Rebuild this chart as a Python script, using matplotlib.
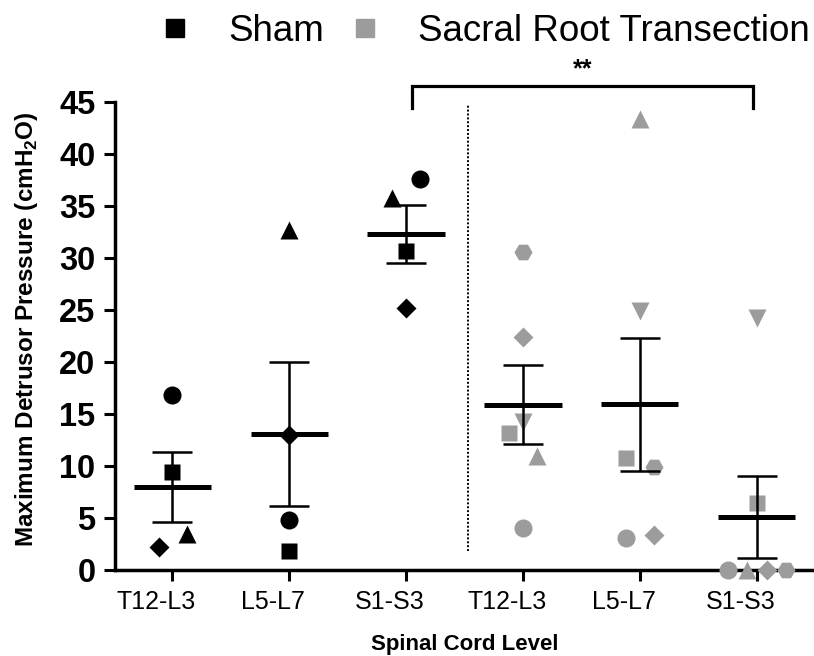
import matplotlib
matplotlib.use('Agg')

import numpy as np
import matplotlib.pyplot as plt
from matplotlib.lines import Line2D
from matplotlib.transforms import ScaledTranslation

plt.rcParams['font.family'] = ['Liberation Sans', 'DejaVu Sans']
plt.rcParams['mathtext.fontset'] = 'custom'
plt.rcParams['mathtext.rm'] = 'Liberation Sans'
plt.rcParams['mathtext.bf'] = 'Liberation Sans:bold'

levels = ['T12-L3', 'L5-L7', 'S1-S3']
groups = ['Sham', 'Sacral Root Transection']

# sham animals: circle, square, triangle, diamond
sham_t12_l3 = [16.8, 9.4, 3.5, 2.2]
sham_l5_l7 = [4.8, 1.8, 32.7, 13.0]
sham_s1_s3 = [37.6, 30.7, 35.8, 25.2]

# transection animals: circle, square, triangle, diamond, hexagon, triangle-down
srt_t12_l3 = [4.0, 13.2, 11.0, 22.4, 30.6, 14.2]
srt_l5_l7 = [3.1, 10.8, 43.4, 3.4, 9.9, 24.9]
srt_s1_s3 = [0.0, 6.4, 0.0, 0.0, 0.0, 24.2]

sham_markers = ['o', 's', '^', 'D']
srt_markers = ['o', 's', '^', 'D', 'H', 'v']
sham_jitter = [[0, 0, 0.13, -0.11], [0, 0, 0, 0], [0.12, 0, -0.12, 0]]
srt_jitter = [[0, -0.12, 0.12, 0, 0, 0],
              [-0.12, -0.12, 0, 0.12, 0.12, 0],
              [-0.25, 0, -0.085, 0.085, 0.25, 0]]
msize = {'o': 13, 's': 12, '^': 12.5, 'v': 12.5, 'D': 10.5, 'H': 13}

gray = '#9c9c9c'

fig = plt.figure(figsize=(8.14, 6.56), dpi=100)
ax = fig.add_axes([0.1413, 0.1311, 0.8587, 0.7134])

sets = [(sham_t12_l3, sham_markers, sham_jitter[0], 'black'),
        (sham_l5_l7, sham_markers, sham_jitter[1], 'black'),
        (sham_s1_s3, sham_markers, sham_jitter[2], 'black'),
        (srt_t12_l3, srt_markers, srt_jitter[0], gray),
        (srt_l5_l7, srt_markers, srt_jitter[1], gray),
        (srt_s1_s3, srt_markers, srt_jitter[2], gray)]

for i, (vals, marks, jit, col) in enumerate(sets):
    vals = np.array(vals)
    for v, m, j in zip(vals, marks, jit):
        ax.plot(i + j, v, marker=m, ms=msize[m], color=col, mec='none',
                linestyle='none', zorder=3, clip_on=False)
    mean = vals.mean()
    sem = vals.std(ddof=1) / np.sqrt(len(vals))
    ax.hlines(mean, i - 0.33, i + 0.33, color='black', lw=3.6, zorder=4)
    ax.vlines(i, mean - sem, mean + sem, color='black', lw=1.8, zorder=4)
    ax.hlines([mean - sem, mean + sem], i - 0.17, i + 0.17, color='black',
              lw=1.8, zorder=4)

# divider between groups
ax.vlines(2.53, 1.8, 44.8, color='black', lw=1.4, linestyles=(0, (1, 1)))

# significance bracket
ax.plot([2.05, 2.05, 4.97, 4.97], [44.4, 46.5, 46.5, 44.4], color='black',
        lw=2.3, clip_on=False, solid_joinstyle='miter')
ax.text(3.51, 47.0, '**', ha='center', va='bottom', fontsize=18,
        fontweight='bold')

ax.set_xlim(-0.49, 5.49)
ax.set_ylim(0, 45)
ax.set_yticks(np.arange(0, 46, 5))
ax.set_xticks(range(6))
ax.set_xticklabels([])
# category labels sit a little left of their ticks, as in the original
shift = ScaledTranslation(-0.16, -0.2, fig.dpi_scale_trans)
for i, name in enumerate(levels + levels):
    ax.text(i, 0, name, fontsize=18, ha='center', va='top',
            transform=ax.get_xaxis_transform() + shift)
for lab in ax.get_yticklabels():
    lab.set_fontsize(23.5)
    lab.set_fontweight('bold')

ax.spines['top'].set_visible(False)
ax.spines['right'].set_visible(False)
ax.spines['left'].set_linewidth(2.5)
ax.spines['bottom'].set_linewidth(2.5)
ax.tick_params(axis='y', length=8, width=2.2, pad=6)
ax.tick_params(axis='x', length=8, width=2.2, pad=7)

ax.set_ylabel('Maximum Detrusor Pressure (cmH$_\\mathbf{2}$O)',
              fontsize=17.5, fontweight='bold')
ax.yaxis.set_label_coords(-0.108, 0.515)
ax.set_xlabel('Spinal Cord Level', fontsize=16, fontweight='bold',
              labelpad=31)

handles = [Line2D([], [], marker='s', color='black', ms=13.5, ls='none'),
           Line2D([], [], marker='s', color=gray, ms=13.5, ls='none')]
fig.legend(handles, groups, loc='center', bbox_to_anchor=(0.594, 0.952),
           ncol=2, frameon=False, fontsize=26.5, handlelength=1,
           handletextpad=0.95, columnspacing=0.6, borderpad=0)

fig.savefig('out.png', dpi=100)
